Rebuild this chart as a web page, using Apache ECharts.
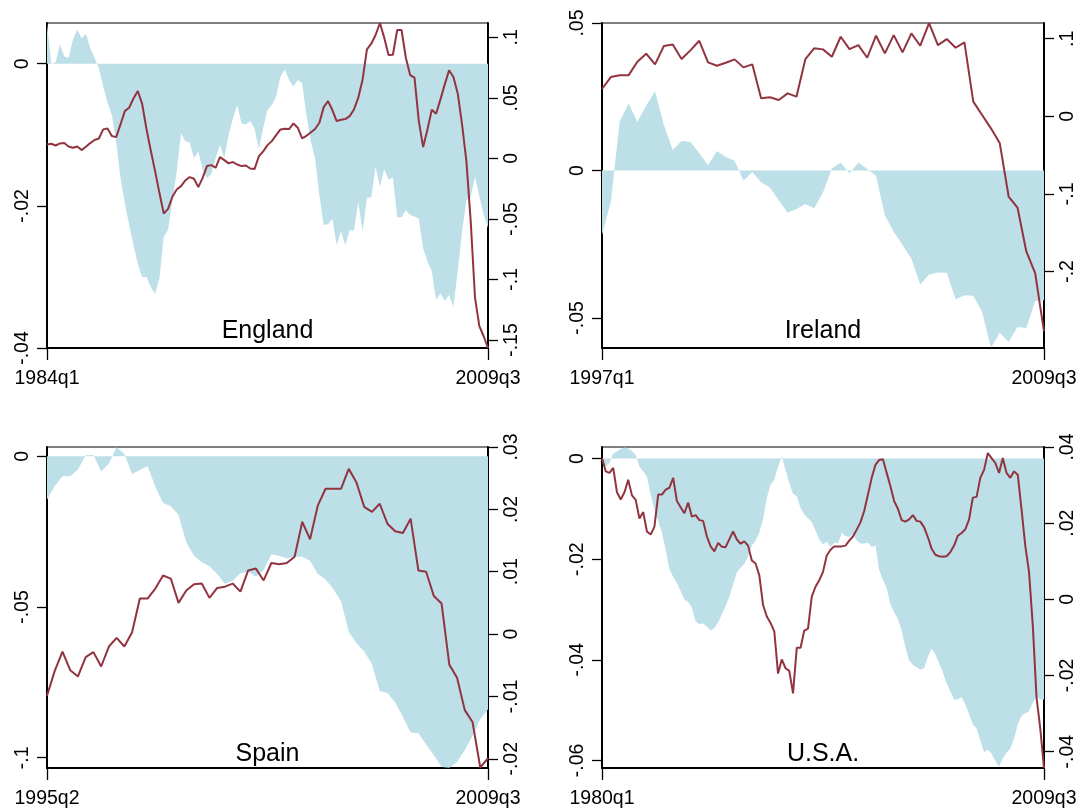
<!DOCTYPE html>
<html>
<head>
<meta charset="utf-8">
<script src="https://cdn.jsdelivr.net/npm/echarts@6/dist/echarts.min.js"></script>
<style>
  html, body { margin: 0; padding: 0; background: #fff; }
  #chart { width: 1082px; height: 809px; }
</style>
</head>
<body>
<div id="chart"></div>
<script>
// Output gap (shaded area, left axis) and house-price growth (line, right axis), quarterly

const englandGap = [
  0.0057, 0.0000, 0.0002, 0.0027, 0.0010, 0.0008, 0.0034, 0.0048, 0.0036, 0.0042,
  0.0022, 0.0008, -0.0006, -0.0032, -0.0055, -0.0072, -0.0109, -0.0161, -0.0196, -0.0227,
  -0.0255, -0.0281, -0.0300, -0.0300, -0.0314, -0.0324, -0.0302, -0.0243, -0.0234, -0.0192,
  -0.0152, -0.0098, -0.0109, -0.0111, -0.0133, -0.0123, -0.0149, -0.0161, -0.0155, -0.0133,
  -0.0114, -0.0133, -0.0100, -0.0077, -0.0058, -0.0084, -0.0085, -0.0081, -0.0091, -0.0120,
  -0.0090, -0.0065, -0.0058, -0.0046, -0.0018, -0.0008, -0.0023, -0.0032, -0.0023, -0.0027,
  -0.0072, -0.0109, -0.0133, -0.0185, -0.0227, -0.0226, -0.0218, -0.0255, -0.0236, -0.0255,
  -0.0234, -0.0235, -0.0194, -0.0236, -0.0189, -0.0188, -0.0145, -0.0173, -0.0148, -0.0163,
  -0.0160, -0.0216, -0.0216, -0.0206, -0.0213, -0.0215, -0.0218, -0.0260, -0.0278, -0.0292,
  -0.0332, -0.0323, -0.0334, -0.0325, -0.0342, -0.0292, -0.0236, -0.0192, -0.0187, -0.0159,
  -0.0187, -0.0213, -0.0231
];
const englandGrowth = [
  0.0116, 0.0121, 0.0107, 0.0124, 0.0127, 0.0099, 0.0088, 0.0099, 0.0069, 0.0096,
  0.0127, 0.0152, 0.0165, 0.0240, 0.0248, 0.0185, 0.0176, 0.0281, 0.0391, 0.0419,
  0.0496, 0.0557, 0.0452, 0.0245, 0.0066, -0.0105, -0.0284, -0.0455, -0.0416, -0.0317,
  -0.0256, -0.0229, -0.0182, -0.0154, -0.0168, -0.0237, -0.0160, -0.0063, -0.0055, -0.0077,
  0.0011, -0.0014, -0.0041, -0.0030, -0.0050, -0.0063, -0.0058, -0.0083, -0.0088, 0.0018,
  0.0058, 0.0110, 0.0143, 0.0193, 0.0240, 0.0245, 0.0243, 0.0289, 0.0254, 0.0165,
  0.0187, 0.0215, 0.0243, 0.0295, 0.0424, 0.0474, 0.0400, 0.0309, 0.0320, 0.0325,
  0.0350, 0.0405, 0.0502, 0.0653, 0.0901, 0.0948, 0.1020, 0.1119, 0.0998, 0.0854,
  0.0857, 0.1061, 0.1061, 0.0832, 0.0689, 0.0667, 0.0309, 0.0094, 0.0240, 0.0402,
  0.0369, 0.0488, 0.0612, 0.0728, 0.0673, 0.0537, 0.0281, -0.0022, -0.0518, -0.1152,
  -0.1386, -0.1469, -0.1566
];

const irelandGap = [
  -0.0219, -0.0106, 0.0165, 0.0227, 0.0165, 0.0219, 0.0269, 0.0154, 0.0069, 0.0100,
  0.0097, 0.0058, 0.0018, 0.0066, 0.0046, 0.0033, -0.0035, -0.0005, -0.0041, -0.0058,
  -0.0101, -0.0143, -0.0131, -0.0114, -0.0128, -0.0075, 0.0007, 0.0027, -0.0010, 0.0027,
  0.0005, -0.0018, -0.0152, -0.0208, -0.0253, -0.0299, -0.0387, -0.0353, -0.0346, -0.0347,
  -0.0437, -0.0423, -0.0425, -0.0480, -0.0601, -0.0550, -0.0581, -0.0531, -0.0534, -0.0443,
  -0.0440
];
const irelandGrowth = [
  0.0352, 0.0506, 0.0528, 0.0528, 0.0704, 0.0807, 0.0670, 0.0906, 0.0927, 0.0738,
  0.0850, 0.0974, 0.0695, 0.0652, 0.0691, 0.0734, 0.0631, 0.0670, 0.0232, 0.0245,
  0.0210, 0.0296, 0.0253, 0.0736, 0.0876, 0.0863, 0.0768, 0.1026, 0.0867, 0.0918,
  0.0755, 0.1039, 0.0811, 0.1047, 0.0824, 0.1069, 0.0910, 0.1200, 0.0918, 0.0996,
  0.0884, 0.0953, 0.0189, 0.0017, -0.0155, -0.0348, -0.1034, -0.1176, -0.1742, -0.2021,
  -0.2773
];

const spainGap = [
  -0.0144, -0.0099, -0.0066, -0.0066, -0.0044, 0.0003, 0.0004, -0.0051, -0.0024, 0.0030,
  0.0007, -0.0059, -0.0046, -0.0032, -0.0101, -0.0155, -0.0166, -0.0194, -0.0285, -0.0330,
  -0.0352, -0.0365, -0.0391, -0.0423, -0.0413, -0.0388, -0.0383, -0.0400, -0.0378, -0.0325,
  -0.0330, -0.0339, -0.0333, -0.0333, -0.0347, -0.0391, -0.0409, -0.0440, -0.0481, -0.0582,
  -0.0620, -0.0648, -0.0689, -0.0779, -0.0785, -0.0817, -0.0864, -0.0916, -0.0919, -0.0956,
  -0.0992, -0.1031, -0.1033, -0.1014, -0.0974, -0.0927, -0.0872, -0.0839
];
const spainGrowth = [
  -0.0099, -0.0059, -0.0028, -0.0058, -0.0068, -0.0037, -0.0029, -0.0052, -0.0020, -0.0006,
  -0.0020, 0.0003, 0.0057, 0.0057, 0.0073, 0.0094, 0.0089, 0.0050, 0.0070, 0.0080,
  0.0081, 0.0058, 0.0074, 0.0076, 0.0081, 0.0068, 0.0102, 0.0105, 0.0086, 0.0114,
  0.0112, 0.0114, 0.0124, 0.0180, 0.0152, 0.0206, 0.0233, 0.0233, 0.0233, 0.0265,
  0.0243, 0.0204, 0.0196, 0.0209, 0.0177, 0.0165, 0.0162, 0.0185, 0.0102, 0.0100,
  0.0061, 0.0049, -0.0049, -0.0070, -0.0122, -0.0141, -0.0214, -0.0199
];

const usaGap = [
  -0.0003, -0.0016, -0.0009, 0.0010, 0.0014, 0.0019, 0.0022, 0.0020, 0.0015, 0.0007,
  -0.0016, -0.0026, -0.0036, -0.0072, -0.0101, -0.0124, -0.0147, -0.0182, -0.0220, -0.0235,
  -0.0248, -0.0264, -0.0280, -0.0285, -0.0296, -0.0324, -0.0329, -0.0328, -0.0334, -0.0342,
  -0.0337, -0.0326, -0.0309, -0.0293, -0.0274, -0.0251, -0.0226, -0.0217, -0.0209, -0.0195,
  -0.0173, -0.0163, -0.0147, -0.0121, -0.0078, -0.0052, -0.0042, -0.0016, 0.0005, -0.0023,
  -0.0049, -0.0070, -0.0075, -0.0098, -0.0111, -0.0119, -0.0126, -0.0143, -0.0161, -0.0171,
  -0.0165, -0.0176, -0.0167, -0.0169, -0.0148, -0.0154, -0.0156, -0.0150, -0.0163, -0.0169,
  -0.0169, -0.0167, -0.0176, -0.0173, -0.0222, -0.0241, -0.0257, -0.0290, -0.0306, -0.0319,
  -0.0342, -0.0375, -0.0401, -0.0410, -0.0415, -0.0420, -0.0417, -0.0394, -0.0378, -0.0389,
  -0.0407, -0.0425, -0.0446, -0.0463, -0.0479, -0.0479, -0.0474, -0.0489, -0.0508, -0.0528,
  -0.0536, -0.0560, -0.0583, -0.0578, -0.0586, -0.0601, -0.0612, -0.0596, -0.0584, -0.0577,
  -0.0557, -0.0528, -0.0511, -0.0506, -0.0502, -0.0485, -0.0474, -0.0479, -0.0479
];
const usaGrowth = [
  0.0371, 0.0336, 0.0332, 0.0345, 0.0281, 0.0262, 0.0281, 0.0314, 0.0273, 0.0261,
  0.0212, 0.0229, 0.0178, 0.0170, 0.0191, 0.0275, 0.0275, 0.0288, 0.0293, 0.0319,
  0.0258, 0.0242, 0.0226, 0.0254, 0.0217, 0.0221, 0.0208, 0.0206, 0.0165, 0.0139,
  0.0126, 0.0148, 0.0138, 0.0137, 0.0158, 0.0178, 0.0157, 0.0146, 0.0152, 0.0141,
  0.0102, 0.0094, 0.0063, -0.0015, -0.0045, -0.0062, -0.0084, -0.0195, -0.0158, -0.0181,
  -0.0188, -0.0247, -0.0127, -0.0127, -0.0082, -0.0077, 0.0007, 0.0033, 0.0050, 0.0072,
  0.0115, 0.0130, 0.0139, 0.0139, 0.0139, 0.0141, 0.0154, 0.0165, 0.0183, 0.0202,
  0.0232, 0.0275, 0.0319, 0.0353, 0.0366, 0.0368, 0.0332, 0.0297, 0.0258, 0.0238,
  0.0208, 0.0204, 0.0210, 0.0221, 0.0206, 0.0204, 0.0189, 0.0163, 0.0133, 0.0117,
  0.0113, 0.0112, 0.0113, 0.0124, 0.0141, 0.0167, 0.0174, 0.0184, 0.0210, 0.0267,
  0.0269, 0.0319, 0.0340, 0.0384, 0.0371, 0.0358, 0.0332, 0.0371, 0.0332, 0.0319,
  0.0336, 0.0327, 0.0236, 0.0141, 0.0072, -0.0067, -0.0257, -0.0339, -0.0443
];

// Tick positions for each axis
const englandLeftTicks = [-0.04, -0.02, 0];
const englandRightTicks = [-0.15, -0.1, -0.05, 0, 0.05, 0.1];
const irelandLeftTicks = [-0.05, 0, 0.05];
const irelandRightTicks = [-0.3, -0.2, -0.1, 0, 0.1];
const spainLeftTicks = [-0.1, -0.05, 0];
const spainRightTicks = [-0.02, -0.01, 0, 0.01, 0.02, 0.03];
const usaLeftTicks = [-0.06, -0.04, -0.02, 0];
const usaRightTicks = [-0.04, -0.02, 0, 0.02, 0.04];

// Quarter labels from a starting year/quarter
function quarterLabels(year, q, n) {
  const out = [];
  for (let i = 0; i < n; i++) {
    out.push(year + 'q' + q);
    q += 1;
    if (q > 4) { q = 1; year += 1; }
  }
  return out;
}
const englandQuarters = quarterLabels(1984, 1, englandGrowth.length);
const irelandQuarters = quarterLabels(1997, 1, irelandGrowth.length);
const spainQuarters = quarterLabels(1995, 2, spainGrowth.length);
const usaQuarters = quarterLabels(1980, 1, usaGrowth.length);

const FONT = 'Liberation Sans, Arial, Helvetica, sans-serif';
const TICK_FONT_SIZE = 19.5;
const AREA_COLOR = '#bddfe8';
const LINE_COLOR = '#923440';

// Stata-style tick text: ".05", "-.1", "0"
function fmt(v) {
  const r = Math.round(v * 10000) / 10000;
  if (r === 0) return '0';
  const s = String(Math.abs(r)).replace(/^0/, '');
  return (r < 0 ? '-' : '') + s;
}

const panels = [
  { name: 'England', cats: englandQuarters, gap: englandGap, growth: englandGrowth,
    lTicks: englandLeftTicks, rTicks: englandRightTicks,
    lRange: [-0.04, 0.00573], rRange: [-0.1566, 0.1119],
    box: { left: 47, top: 23, width: 441, height: 325 } },
  { name: 'Ireland', cats: irelandQuarters, gap: irelandGap, growth: irelandGrowth,
    lTicks: irelandLeftTicks, rTicks: irelandRightTicks,
    lRange: [-0.0602, 0.05], rRange: [-0.2987, 0.1203],
    box: { left: 602, top: 23, width: 442, height: 325 } },
  { name: 'Spain', cats: spainQuarters, gap: spainGap, growth: spainGrowth,
    lTicks: spainLeftTicks, rTicks: spainRightTicks,
    lRange: [-0.1034, 0.00306], rRange: [-0.02148, 0.03],
    box: { left: 47, top: 447, width: 441, height: 324.5 } },
  { name: 'U.S.A.', cats: usaQuarters, gap: usaGap, growth: usaGrowth,
    lTicks: usaLeftTicks, rTicks: usaRightTicks,
    lRange: [-0.0615, 0.00228], rRange: [-0.0443, 0.04],
    box: { left: 602, top: 447, width: 442, height: 324.5 } }
];

const grid = [], xAxis = [], yAxis = [], series = [], graphic = [];

function yAxisFor(k, side, range, ticks) {
  return {
    type: 'value', gridIndex: k, position: side,
    min: range[0], max: range[1],
    axisLine: { show: true, onZero: false, lineStyle: { color: '#000', width: 2 } },
    axisTick: { show: true, inside: false, length: 10, customValues: ticks,
      lineStyle: { color: '#000', width: 1.3 } },
    axisLabel: { show: true, customValues: ticks, formatter: fmt, rotate: 90,
      margin: 14, fontSize: TICK_FONT_SIZE, fontFamily: FONT, color: '#000' },
    splitLine: { show: false }
  };
}

panels.forEach((p, k) => {
  const last = p.cats.length - 1;
  const ends = (idx) => idx === 0 || idx === last;
  grid.push(Object.assign({ show: true, borderColor: '#000', borderWidth: 1,
    backgroundColor: 'transparent', containLabel: false }, p.box));
  xAxis.push({
    type: 'category', gridIndex: k, data: p.cats, boundaryGap: false,
    axisLine: { show: true, onZero: false, lineStyle: { color: '#000', width: 2 } },
    axisTick: { show: true, length: 12, interval: ends, lineStyle: { color: '#000', width: 1.3 } },
    axisLabel: { show: true, interval: ends, margin: 21, fontSize: TICK_FONT_SIZE, fontFamily: FONT,
      color: '#000', hideOverlap: false },
    splitLine: { show: false }
  });
  yAxis.push(yAxisFor(k, 'left', p.lRange, p.lTicks));
  yAxis.push(yAxisFor(k, 'right', p.rRange, p.rTicks));
  series.push({
    name: p.name + ' gap', type: 'line', xAxisIndex: k, yAxisIndex: 2 * k,
    data: p.gap, symbol: 'none', silent: true, z: 1,
    lineStyle: { width: 0, color: AREA_COLOR },
    areaStyle: { color: AREA_COLOR, opacity: 1, origin: 0 }
  });
  series.push({
    name: p.name + ' growth', type: 'line', xAxisIndex: k, yAxisIndex: 2 * k + 1,
    data: p.growth, symbol: 'none', silent: true, z: 3,
    lineStyle: { width: 2, color: LINE_COLOR }
  });
  graphic.push({
    type: 'text', z: 10,
    x: p.box.left + p.box.width / 2,
    y: p.box.top + p.box.height - 17,
    style: { text: p.name, fontSize: 25, fontFamily: FONT, fill: '#000',
      align: 'center', verticalAlign: 'middle' }
  });
});

const chart = echarts.init(document.getElementById('chart'), null, { renderer: 'canvas' });
chart.setOption({
  animation: false,
  backgroundColor: '#fff',
  grid, xAxis, yAxis, series, graphic
});
</script>
</body>
</html>
